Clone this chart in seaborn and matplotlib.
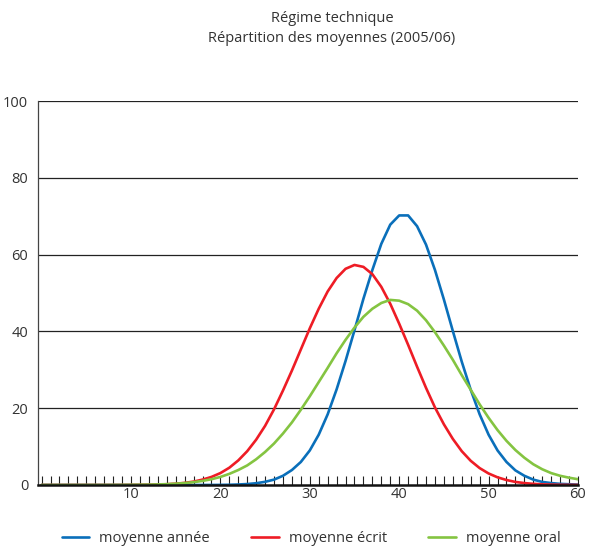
import matplotlib
matplotlib.use("Agg")
import matplotlib.pyplot as plt
import seaborn as sns
import pandas as pd

x_values = list(range(0, 61))

annee = [0.0, 0.0, 0.0, 0.0, 0.0, 0.0, 0.0, 0.0, 0.0, 0.0,
         0.0, 0.0, 0.0, 0.0, 0.0, 0.0, 0.0, 0.0, 0.0, 0.01,
         0.03, 0.06, 0.13, 0.25, 0.46, 0.83, 1.4, 2.4, 3.9, 6.0,
         9.0, 13.1, 18.4, 24.9, 32.3, 40.3, 48.5, 56.0, 62.8, 67.8,
         70.2, 70.2, 67.4, 62.6, 56.0, 48.3, 40.1, 32.1, 24.8, 18.4,
         13.1, 9.0, 6.0, 3.8, 2.4, 1.4, 0.8, 0.5, 0.3, 0.2, 0.1]

ecrit = [0.0, 0.0, 0.0, 0.0, 0.0, 0.0, 0.0, 0.0, 0.0, 0.01,
         0.02, 0.04, 0.06, 0.11, 0.2, 0.34, 0.55, 0.88, 1.4, 2.1,
         3.1, 4.5, 6.4, 8.8, 11.8, 15.4, 19.7, 24.6, 29.8, 35.3,
         40.8, 45.9, 50.4, 53.9, 56.3, 57.3, 56.8, 54.9, 51.6, 47.2,
         42.0, 36.5, 30.8, 25.3, 20.2, 15.8, 12.0, 8.8, 6.3, 4.4,
         3.0, 2.0, 1.3, 0.8, 0.5, 0.3, 0.17, 0.1, 0.05, 0.03, 0.02]

oral = [0.0, 0.0, 0.0, 0.0, 0.0, 0.0, 0.0, 0.0, 0.01, 0.02,
        0.04, 0.06, 0.09, 0.15, 0.22, 0.34, 0.5, 0.74, 1.07, 1.5,
        2.1, 2.9, 3.9, 5.1, 6.7, 8.6, 10.8, 13.4, 16.3, 19.6,
        23.1, 26.8, 30.5, 34.3, 37.8, 41.0, 43.8, 45.9, 47.4, 48.2,
        48.0, 47.1, 45.4, 42.9, 39.8, 36.3, 32.6, 28.6, 24.8, 21.0,
        17.5, 14.3, 11.5, 9.1, 7.1, 5.4, 4.1, 3.1, 2.4, 1.9, 1.5]

series_names = ["moyenne année", "moyenne écrit", "moyenne oral"]
series_colors = ["#0a6fba", "#ee1c25", "#84c441"]
y_ticks = [0, 20, 40, 60, 80, 100]
x_label_ticks = [10, 20, 30, 40, 50, 60]
title_lines = ["Régime technique", "Répartition des moyennes (2005/06)"]

sns.set_style("white")
plt.rcParams["font.family"] = ["Open Sans", "DejaVu Sans"]

fig = plt.figure(figsize=(5.89, 5.49), dpi=100)
ax = fig.add_axes([38 / 589, 64 / 549, 540 / 589, 384 / 549])

df = pd.DataFrame({
    "x": x_values * 3,
    "y": annee + ecrit + oral,
    "serie": [series_names[0]] * 61 + [series_names[1]] * 61 + [series_names[2]] * 61,
})

sns.lineplot(data=df, x="x", y="y", hue="serie", palette=series_colors,
             hue_order=series_names, linewidth=1.9, ax=ax, zorder=3)

ax.set_xlim(-0.4, 60)
ax.set_ylim(0, 100)
ax.set_xlabel("")
ax.set_ylabel("")

ax.set_yticks(y_ticks)
ax.set_yticklabels([str(v) for v in y_ticks])
for v in y_ticks[1:]:
    ax.axhline(v, color="#222222", linewidth=0.9, zorder=1)

ax.set_xticks(list(range(0, 61)))
ax.set_xticklabels([str(v) if v in x_label_ticks else "" for v in range(0, 61)])

ax.tick_params(axis="x", bottom=True, direction="in", length=6.5, width=0.8,
               color="#222222", pad=1.5, labelsize=10.5, labelcolor="#333333")
ax.tick_params(axis="y", left=False, length=0, pad=7, labelsize=10.5,
               labelcolor="#333333")

for side in ["top", "right"]:
    ax.spines[side].set_visible(False)
ax.spines["left"].set_color("#444444")
ax.spines["left"].set_linewidth(0.9)
ax.spines["bottom"].set_color("#111111")
ax.spines["bottom"].set_linewidth(1.8)
ax.spines["bottom"].set_zorder(4)

handles, labels = ax.get_legend_handles_labels()
ax.get_legend().remove()
fig.legend(handles, labels, loc="lower center", bbox_to_anchor=(311 / 589, 0.0),
           borderaxespad=0.1, borderpad=0.1,
           ncol=3, frameon=False, fontsize=10.5, handlelength=1.9,
           columnspacing=2.8, handletextpad=0.7, labelcolor="#333333")

fig.text(332 / 589, 1 - 19 / 549, title_lines[0], ha="center", va="center",
         fontsize=10.5, color="#333333")
fig.text(332 / 589, 1 - 38 / 549, title_lines[1], ha="center", va="center",
         fontsize=10.5, color="#333333")

fig.savefig("out.png", dpi=100)
